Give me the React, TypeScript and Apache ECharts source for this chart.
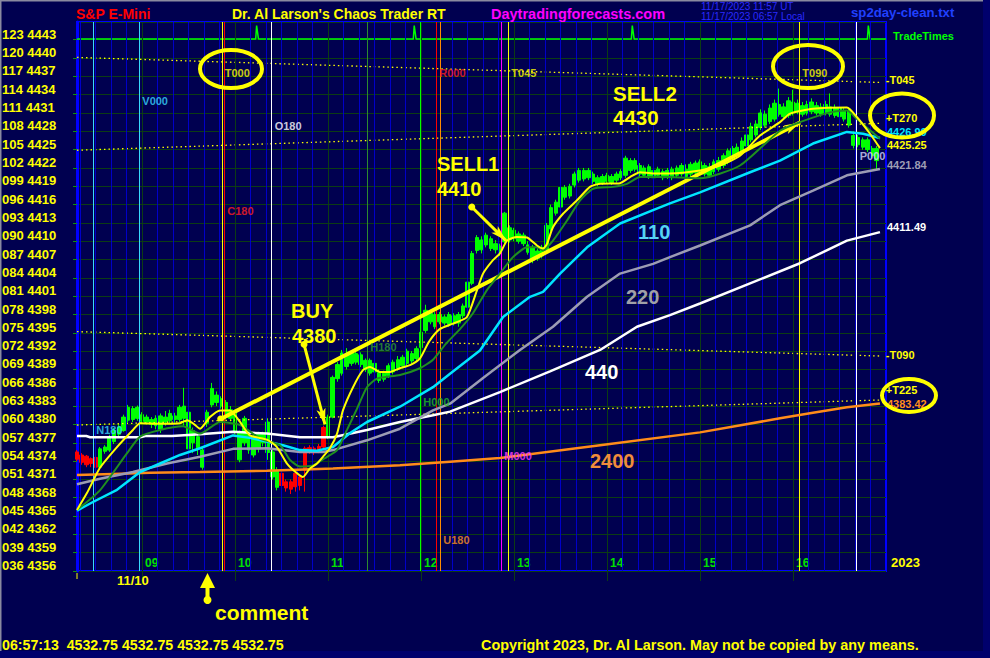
import React, { useEffect, useRef } from 'react';
import * as echarts from 'echarts';

const FONT = "'Liberation Sans', Arial, sans-serif";
const NARROW = "'Liberation Sans Narrow', 'Liberation Sans', Arial, sans-serif";

// x axis = minutes after 08:00 ; first bar at 08:18, 3-minute bars
const X_MIN = 18;
const X_MAX = 540;
const BAR_START = 18;
const BAR_STEP = 3;

const hourTimes = [60, 120, 180, 240, 300, 360, 420, 480];
const hourLabels = ['09', '10', '11', '12', '13', '14', '15', '16'];

const yTickPrices = [4356, 4359, 4362, 4365, 4368, 4371, 4374, 4377, 4380, 4383, 4386, 4389, 4392, 4395, 4398, 4401, 4404, 4407, 4410, 4413, 4416, 4419, 4422, 4425, 4428, 4431, 4434, 4437, 4440, 4443];
const yTickCodes = ['036', '039', '042', '045', '048', '051', '054', '057', '060', '063', '066', '069', '072', '075', '078', '081', '084', '087', '090', '093', '096', '099', '102', '105', '108', '111', '114', '117', '120', '123'];

// OHLC bars [open, close, low, high]
const bars: number[][] = [
  [4375.5, 4374.3, 4374.0, 4375.8], [4375.0, 4373.8, 4373.4, 4375.3], [4374.8, 4373.4, 4373.0, 4375.0], [4374.4, 4373.6, 4373.0, 4374.6],
  [4374.6, 4373.0, 4372.4, 4374.8], [4373.0, 4376.0, 4372.8, 4376.3], [4375.6, 4376.3, 4375.2, 4376.6], [4375.8, 4378.0, 4375.5, 4378.3],
  [4377.2, 4379.0, 4376.8, 4379.4], [4378.4, 4379.6, 4378.0, 4380.0], [4379.0, 4381.2, 4378.8, 4381.6], [4380.7, 4382.8, 4380.3, 4383.2],
  [4380.8, 4382.6, 4380.4, 4383.0], [4381.0, 4382.8, 4380.6, 4383.1], [4380.5, 4381.6, 4380.2, 4382.0], [4380.4, 4381.2, 4380.0, 4381.6],
  [4380.0, 4380.8, 4379.4, 4381.2], [4379.8, 4381.0, 4379.2, 4381.5], [4379.2, 4381.4, 4378.6, 4381.8], [4380.4, 4381.2, 4379.8, 4382.2],
  [4380.6, 4381.8, 4380.2, 4382.4], [4380.8, 4381.4, 4380.3, 4381.9], [4380.8, 4382.8, 4380.4, 4383.2], [4381.0, 4383.0, 4379.8, 4386.0],
  [4376.0, 4382.0, 4375.4, 4382.4], [4377.0, 4379.0, 4375.3, 4379.5], [4376.0, 4378.0, 4375.0, 4378.6], [4373.0, 4375.8, 4372.6, 4376.2],
  [4380.2, 4382.0, 4379.6, 4382.4], [4383.2, 4385.9, 4382.8, 4386.8], [4383.6, 4384.8, 4383.0, 4385.4], [4383.0, 4384.2, 4382.6, 4384.6],
  [4381.2, 4383.6, 4380.8, 4384.0], [4381.0, 4382.4, 4380.5, 4383.0], [4378.8, 4382.0, 4378.4, 4382.4], [4374.2, 4378.6, 4373.8, 4379.0],
  [4377.0, 4381.0, 4376.5, 4381.4], [4375.8, 4378.4, 4375.2, 4379.0], [4375.0, 4377.8, 4374.6, 4378.3], [4376.0, 4378.4, 4375.4, 4378.8],
  [4377.0, 4378.4, 4376.4, 4378.8], [4375.4, 4380.4, 4374.2, 4381.0], [4371.4, 4375.5, 4371.0, 4376.0], [4369.7, 4372.5, 4369.2, 4373.0],
  [4372.0, 4370.0, 4369.4, 4372.4], [4370.6, 4369.6, 4369.0, 4371.0], [4370.6, 4369.4, 4368.6, 4371.0], [4372.0, 4369.8, 4369.0, 4372.4],
  [4371.4, 4370.0, 4369.2, 4371.8], [4376.1, 4372.5, 4369.0, 4376.4], [4376.2, 4375.6, 4375.2, 4376.6], [4376.1, 4375.4, 4375.0, 4376.4],
  [4376.4, 4375.8, 4375.3, 4376.8], [4379.5, 4376.3, 4376.0, 4379.8], [4378.0, 4381.2, 4377.6, 4381.6], [4381.2, 4387.7, 4381.0, 4388.0],
  [4387.5, 4389.8, 4387.0, 4390.2], [4388.4, 4391.7, 4388.0, 4392.2], [4389.5, 4391.4, 4389.0, 4392.5], [4390.0, 4391.7, 4389.6, 4392.0],
  [4390.2, 4391.6, 4389.8, 4392.0], [4389.8, 4391.4, 4389.4, 4391.8], [4389.0, 4390.5, 4388.6, 4390.8], [4388.4, 4390.5, 4388.0, 4390.8],
  [4388.6, 4390.0, 4388.2, 4390.4], [4387.2, 4388.5, 4386.8, 4389.0], [4387.4, 4388.4, 4387.0, 4388.8], [4388.0, 4389.6, 4387.6, 4390.0],
  [4388.6, 4390.2, 4388.2, 4390.6], [4389.2, 4390.6, 4388.8, 4391.2], [4389.6, 4391.0, 4389.2, 4391.4], [4390.0, 4392.0, 4389.6, 4392.4],
  [4390.4, 4391.6, 4390.0, 4392.0], [4390.8, 4392.4, 4390.4, 4392.8], [4392.6, 4395.1, 4392.2, 4395.5], [4395.4, 4398.7, 4395.0, 4399.6],
  [4396.8, 4398.2, 4396.4, 4398.6], [4396.0, 4398.0, 4395.6, 4398.4], [4396.8, 4398.0, 4396.4, 4398.4], [4396.6, 4397.6, 4396.2, 4398.0],
  [4396.4, 4398.0, 4396.0, 4398.4], [4396.6, 4397.8, 4396.2, 4398.2], [4396.6, 4398.0, 4396.0, 4398.4], [4397.8, 4399.4, 4397.4, 4399.8],
  [4399.2, 4403.3, 4398.8, 4403.6], [4403.1, 4408.0, 4402.8, 4408.4], [4408.5, 4410.6, 4408.0, 4411.0], [4408.6, 4410.2, 4408.0, 4410.8],
  [4409.4, 4411.0, 4409.0, 4411.4], [4408.8, 4410.4, 4408.4, 4410.8], [4408.6, 4409.6, 4408.0, 4410.2], [4408.0, 4409.2, 4407.6, 4409.6],
  [4409.9, 4414.6, 4409.4, 4414.8], [4410.2, 4412.2, 4409.8, 4412.6], [4410.4, 4411.8, 4410.0, 4412.2], [4410.0, 4411.2, 4409.6, 4411.6],
  [4409.6, 4411.0, 4409.2, 4411.4], [4408.2, 4409.4, 4407.8, 4410.0], [4406.9, 4409.0, 4406.4, 4409.4], [4407.2, 4408.4, 4406.8, 4408.8],
  [4407.6, 4409.0, 4407.2, 4409.4], [4408.5, 4412.6, 4408.0, 4413.0], [4412.0, 4415.5, 4411.6, 4416.0], [4414.6, 4416.4, 4414.2, 4416.8],
  [4415.6, 4418.8, 4415.2, 4419.2], [4417.2, 4418.8, 4416.8, 4419.2], [4417.4, 4419.0, 4417.0, 4419.4], [4419.2, 4421.0, 4418.8, 4421.4],
  [4420.0, 4421.6, 4419.6, 4422.0], [4420.2, 4421.6, 4419.8, 4422.0], [4420.4, 4421.6, 4420.0, 4422.0], [4419.8, 4421.0, 4419.4, 4421.4],
  [4419.4, 4420.4, 4419.0, 4420.8], [4419.6, 4420.6, 4419.2, 4421.0], [4419.8, 4420.8, 4419.4, 4421.2], [4419.6, 4420.6, 4419.2, 4421.0],
  [4420.0, 4421.0, 4419.6, 4421.4], [4420.4, 4421.4, 4420.0, 4421.8], [4420.8, 4423.6, 4420.4, 4424.0], [4421.6, 4423.2, 4421.2, 4423.6],
  [4421.8, 4423.2, 4421.4, 4423.6], [4421.0, 4422.4, 4420.6, 4422.8], [4420.8, 4422.0, 4420.4, 4422.4], [4420.6, 4422.2, 4420.2, 4422.6],
  [4420.4, 4421.6, 4420.0, 4422.0], [4420.8, 4421.8, 4420.4, 4422.2], [4420.4, 4421.4, 4420.0, 4421.8], [4420.6, 4421.6, 4420.2, 4422.0],
  [4420.4, 4421.8, 4420.0, 4422.2], [4420.8, 4422.0, 4420.4, 4422.4], [4421.0, 4422.4, 4420.6, 4422.8], [4420.6, 4421.8, 4420.2, 4422.6],
  [4421.0, 4422.6, 4420.6, 4423.0], [4421.2, 4422.8, 4420.8, 4423.2], [4421.4, 4423.0, 4421.0, 4423.4], [4421.0, 4422.4, 4420.6, 4422.8],
  [4420.8, 4422.2, 4420.4, 4422.8], [4421.4, 4423.0, 4421.0, 4423.4], [4421.8, 4423.2, 4421.4, 4423.8], [4422.4, 4424.0, 4422.0, 4424.4],
  [4423.0, 4424.8, 4422.6, 4425.2], [4423.6, 4425.2, 4423.2, 4425.6], [4424.0, 4425.4, 4423.6, 4426.0], [4424.6, 4426.4, 4424.2, 4427.0],
  [4425.6, 4427.4, 4425.2, 4427.8], [4426.6, 4428.8, 4426.2, 4429.4], [4427.4, 4429.2, 4427.0, 4429.8], [4428.6, 4431.0, 4428.2, 4431.6],
  [4429.0, 4430.8, 4428.6, 4431.4], [4429.6, 4431.8, 4429.2, 4432.4], [4430.0, 4432.6, 4429.6, 4433.2], [4430.8, 4432.4, 4430.4, 4435.0],
  [4430.4, 4432.0, 4430.0, 4432.6], [4430.6, 4433.0, 4430.2, 4433.6], [4431.0, 4432.8, 4430.6, 4434.8], [4431.2, 4432.6, 4430.8, 4433.2],
  [4430.8, 4432.2, 4430.4, 4432.8], [4431.0, 4432.4, 4430.6, 4433.0], [4431.2, 4432.8, 4430.8, 4433.4], [4431.0, 4432.2, 4430.6, 4432.8],
  [4430.8, 4432.0, 4430.4, 4432.6], [4431.0, 4432.4, 4430.6, 4433.0], [4430.8, 4432.0, 4430.4, 4434.2], [4430.6, 4431.8, 4430.2, 4432.4],
  [4430.4, 4431.8, 4430.0, 4432.2], [4430.0, 4431.4, 4429.6, 4431.8], [4429.0, 4431.4, 4428.6, 4431.8], [4425.7, 4427.3, 4425.2, 4428.0],
  [4425.8, 4427.0, 4425.4, 4427.4], [4425.4, 4426.6, 4425.0, 4427.0], [4425.0, 4426.6, 4424.6, 4427.0], [4424.0, 4425.2, 4423.6, 4425.6],
  [4423.2, 4425.2, 4421.8, 4425.6],
];

// moving averages as [minute, price]
const maYellow: number[][] = [
  [18, 4366.0], [24.5, 4368.8], [32.8, 4372.9], [43.8, 4376.3], [54.1, 4379.1], [58.7, 4380.2], [71.6, 4380.1], [84.5, 4380.2],
  [89.0, 4380.7], [92.8, 4380.2], [97.4, 4379.3], [103.8, 4381.2], [110.3, 4382.3], [116.7, 4382.3], [123.2, 4380.4], [129.6, 4378.2],
  [140.6, 4377.5], [147.0, 4376.3], [153.5, 4373.6], [160.0, 4372.0], [163.8, 4371.4], [168.3, 4372.8], [172.9, 4373.6], [176.7, 4374.7],
  [181.2, 4376.1], [185.8, 4378.5], [189.6, 4382.3], [196.1, 4386.1], [202.5, 4388.9], [207.1, 4389.4], [213.5, 4388.6], [220.0, 4388.6],
  [226.4, 4389.2], [232.9, 4389.7], [239.3, 4390.8], [245.0, 4393.5], [252.0, 4395.6], [260.6, 4396.5], [269.6, 4397.6], [276.1, 4402.0],
  [280.0, 4404.7], [286.4, 4406.9], [290.9, 4408.0], [295.5, 4410.1], [301.9, 4410.7], [308.4, 4410.6], [314.8, 4409.3], [318.7, 4408.8],
  [321.3, 4409.6], [325.1, 4412.3], [331.6, 4414.5], [340.6, 4416.7], [349.0, 4418.9], [355.5, 4419.4], [368.4, 4419.5], [374.8, 4420.5],
  [381.3, 4421.3], [389.7, 4421.1], [400.6, 4421.1], [420.0, 4421.6], [432.9, 4422.4], [445.8, 4424.0], [458.7, 4427.3], [471.6, 4429.5],
  [478.1, 4430.9], [492.9, 4431.7], [514.8, 4431.9], [521.3, 4430.3], [529.7, 4427.6], [536.1, 4425.25],
];
const maDarkGreen: number[][] = [
  [18, 4366.0], [32.8, 4369.2], [50.3, 4375.3], [58.7, 4378.0], [71.6, 4379.1], [86.4, 4379.7], [97.4, 4378.5], [110.3, 4380.4],
  [123.2, 4379.9], [136.1, 4377.7], [149.0, 4376.6], [155.4, 4374.2], [161.9, 4373.1], [170.3, 4373.3], [179.3, 4374.7], [185.8, 4375.8],
  [192.2, 4379.1], [198.7, 4382.6], [205.1, 4386.1], [211.6, 4387.5], [226.4, 4388.1], [239.3, 4389.2], [247.7, 4390.6], [256.0, 4393.2],
  [265.1, 4395.6], [273.5, 4398.2], [282.5, 4402.0], [290.9, 4404.7], [299.3, 4407.4], [308.4, 4409.0], [314.8, 4409.0], [318.7, 4408.5],
  [325.1, 4410.1], [334.2, 4413.4], [342.6, 4416.7], [351.0, 4418.6], [363.9, 4418.9], [372.9, 4419.4], [381.3, 4420.5], [400.6, 4420.5],
  [420.0, 4420.3], [445.8, 4422.4], [471.6, 4428.1], [484.5, 4429.5], [503.9, 4431.1], [514.8, 4431.4], [521.3, 4430.0], [536.1, 4426.8],
];
const maCyan: number[][] = [
  [18, 4365.9], [28.3, 4367.3], [43.8, 4369.3], [58.7, 4372.2], [71.6, 4373.6], [84.5, 4375.0], [97.4, 4376.1], [118.7, 4378.2],
  [129.6, 4377.8], [150.9, 4376.6], [161.9, 4375.8], [172.9, 4375.7], [183.2, 4376.3], [194.2, 4378.6], [205.1, 4380.4], [226.4, 4382.9],
  [247.7, 4386.1], [258.7, 4388.3], [278.0, 4392.1], [292.9, 4397.6], [310.3, 4400.9], [318.7, 4401.7], [329.7, 4404.7], [347.1, 4409.0],
  [368.4, 4412.9], [389.7, 4415.1], [400.6, 4416.2], [420.0, 4418.0], [452.3, 4421.3], [471.6, 4423.2], [492.9, 4426.0], [514.8, 4427.9],
  [525.2, 4427.6], [536.1, 4426.9],
];
const maGray: number[][] = [
  [18, 4370.2], [32.8, 4371.1], [54.1, 4372.2], [76.1, 4373.6], [97.4, 4374.7], [118.7, 4376.0], [140.6, 4376.1], [161.9, 4375.5],
  [176.7, 4375.5], [183.2, 4375.8], [205.1, 4377.4], [226.4, 4379.3], [247.7, 4382.3], [258.7, 4383.4], [280.0, 4387.6], [303.8, 4392.2],
  [325.1, 4396.0], [347.1, 4400.9], [368.4, 4404.7], [389.7, 4406.3], [400.6, 4407.4], [420.0, 4409.3], [452.3, 4412.6], [471.6, 4415.9],
  [492.9, 4418.3], [514.8, 4420.8], [536.1, 4421.84],
];
const maWhite: number[][] = [
  [18, 4378.1], [24.0, 4378.1], [26.4, 4377.9], [58.7, 4377.9], [62.0, 4378.1], [79.3, 4378.1], [97.4, 4378.4], [118.7, 4378.8],
  [140.6, 4378.5], [161.9, 4377.9], [183.2, 4377.9], [205.1, 4379.1], [226.4, 4380.4], [247.7, 4381.5], [258.7, 4382.1], [290.9, 4385.3],
  [323.2, 4388.7], [355.5, 4392.2], [379.3, 4396.0], [400.6, 4397.9], [420.0, 4399.8], [452.3, 4403.1], [484.5, 4406.4], [514.8, 4410.1],
  [536.1, 4411.49],
];
const maOrange: number[][] = [
  [18, 4371.7], [41.2, 4371.9], [65.1, 4372.1], [97.4, 4372.2], [140.6, 4372.4], [183.2, 4372.8], [226.4, 4373.3], [258.7, 4373.9],
  [290.9, 4374.5], [355.5, 4376.6], [420.0, 4378.7], [471.6, 4381.0], [492.9, 4381.9], [514.8, 4382.8], [536.1, 4383.42],
];
const maEndLabels = ['4425.25', '', '4426.90', '4421.84', '4411.49', '4383.42'];

// Gann time lines (dotted): start price, end price
const gannLabels = ['-T045', '+T270', '-T090', '+T225'];
const gannStart = [4440.1, 4424.9, 4395.2, 4379.9];
const gannEnd = [4436.0, 4429.3, 4391.2, 4384.0];
const gannEndTime = 536;

// TradeTimes trace
const tradeTimes: number[][] = [
  [18, 4443.1], [133.3, 4443.1], [133.9, 4445.3], [134.5, 4444.2], [135.1, 4443.1], [235.0, 4443.1], [235.6, 4445.3], [236.2, 4444.2],
  [236.8, 4443.1], [375.7, 4443.1], [376.3, 4445.3], [376.9, 4444.2], [377.5, 4443.1], [528.0, 4443.1], [528.6, 4445.3], [529.2, 4444.2],
  [529.8, 4443.1], [540, 4443.1],
];

// vertical event lines
const markerTimes = [28.5, 58.2, 111.4, 113.0, 143.6, 205.3, 239.5, 249.8, 252.4, 291.8, 296.3, 484.1, 521.1];
const markerColors = ['#38d8ff', '#38d8ff', '#ffff00', '#ff0000', '#ffffff', '#2e8b2e', '#00ff00', '#ff0000', '#ff8c00', '#ff00ff', '#ffff00', '#ffff00', '#ffffff'];
const markerLabels = ['N180', 'V000', 'T000', 'C180', 'O180', 'H180', 'H000', 'R000', 'U180', 'M000', 'T045', 'T090', 'P000'];
const markerLabelPrices = [4379.1, 4433.0, 4437.6, 4415.0, 4428.8, 4392.6, 4383.6, 4437.6, 4361.1, 4374.8, 4437.6, 4437.6, 4424.0];
const markerLabelColors = ['#38d8ff', '#38d8ff', '#ffff00', '#ff2020', '#ffffff', '#2e9b2e', '#20c020', '#ff2020', '#ff9020', '#ff40ff', '#ffff00', '#ffff00', '#d8d8ff'];

// arrows [minute, price]
const arrowStarts = [[164.5, 4393.1], [272.7, 4415.6], [110.7, 4380.9]];
const arrowEnds = [[178.0, 4380.0], [294.8, 4410.1], [484.5, 4429.45]];

function App() {
  const ref = useRef<HTMLDivElement>(null);

  useEffect(() => {
    if (!ref.current) return;
    const chart = echarts.init(ref.current, null, { renderer: 'svg' });

    const gridTimes: number[] = [];
    for (let t = 20; t < X_MAX; t += 10) if (t % 60 !== 0) gridTimes.push(t);

    const candleData = bars.map((b, i) => [BAR_START + BAR_STEP * i, b[0], b[1], b[2], b[3]]);

    const maDefs = [
      { data: maYellow, color: '#ffff00', width: 2, label: maEndLabels[0], lc: '#ffff00', dy: -3, smooth: 0.2 },
      { data: maDarkGreen, color: '#1f8f1f', width: 2, label: maEndLabels[1], lc: '#1f8f1f', dy: 0, smooth: 0.2 },
      { data: maCyan, color: '#00e5ff', width: 2.5, label: maEndLabels[2], lc: '#00e5ff', dy: -6, smooth: false },
      { data: maGray, color: '#9c9cb4', width: 2.5, label: maEndLabels[3], lc: '#9c9cb4', dy: -4, smooth: false },
      { data: maWhite, color: '#ffffff', width: 2.5, label: maEndLabels[4], lc: '#ffffff', dy: -5, smooth: false },
      { data: maOrange, color: '#ff8c1a', width: 2.5, label: maEndLabels[5], lc: '#ff8c1a', dy: 0, smooth: false },
    ];
    const maOrder = [5, 4, 3, 2, 1, 0];
    const maSeries = maOrder.map((k) => {
      const d = maDefs[k];
      return {
        type: 'line',
        data: d.data,
        symbol: 'none',
        smooth: d.smooth,
        lineStyle: { color: d.color, width: d.width },
        silent: true,
        z: 5,
        endLabel: {
          show: d.label !== '',
          formatter: d.label,
          color: d.lc,
          fontFamily: NARROW,
          fontWeight: 'bold',
          fontSize: 11,
          distance: 7,
          offset: [0, d.dy],
        },
      };
    });

    const gannOffsets = [-2, -5, -1, -10];
    const gannSeries = gannLabels.map((lab, i) => ({
      type: 'line',
      data: [[X_MIN, gannStart[i]], [gannEndTime, gannEnd[i]]],
      symbol: 'none',
      silent: true,
      z: 4,
      lineStyle: { color: '#ffff00', width: 1.3, type: [1.5, 3] },
      endLabel: {
        show: true,
        formatter: lab,
        color: '#ffff00',
        fontFamily: NARROW,
        fontWeight: 'bold',
        fontSize: 11,
        distance: 6,
        offset: [0, gannOffsets[i]],
      },
    }));

    const txt = (text: string, x: number, y: number, fill: string, size: number, weight = 'bold', family = FONT) => ({
      type: 'text',
      x,
      y,
      z: 100,
      silent: true,
      style: { text, fill, fontSize: size, fontWeight: weight, fontFamily: family, align: 'left', verticalAlign: 'middle' },
    });
    const ell = (cx: number, cy: number, rx: number, ry: number) => ({
      type: 'ellipse',
      z: 100,
      silent: true,
      shape: { cx, cy, rx, ry },
      style: { fill: 'none', stroke: '#ffff00', lineWidth: 4 },
    });

    const option: any = {
      animation: false,
      backgroundColor: '#000050',
      grid: {
        left: 77,
        right: 104,
        top: 22,
        bottom: 87,
        show: true,
        borderColor: '#0000ff',
        borderWidth: 2,
        backgroundColor: 'transparent',
        outerBoundsMode: 'none',
        containLabel: false,
      },
      xAxis: {
        type: 'value',
        min: X_MIN,
        max: X_MAX,
        axisLine: { show: false },
        splitLine: { show: false },
        axisTick: { show: true, customValues: hourTimes, length: 10, inside: false, lineStyle: { color: '#0c3c14', width: 1 } },
        axisLabel: {
          show: true,
          customValues: hourTimes,
          inside: true,
          formatter: (v: number) => {
            const i = hourTimes.findIndex((h) => Math.abs(h - v) < 0.01);
            return i < 0 ? '' : hourLabels[i];
          },
          color: '#00e000',
          fontFamily: NARROW,
          fontWeight: 'bold',
          fontSize: 12,
          align: 'left',
          verticalAlign: 'middle',
          margin: 8,
          padding: [0, 0, 0, 3],
        },
      },
      yAxis: {
        type: 'value',
        min: 4356,
        max: 4445.9,
        interval: 3,
        axisLine: { show: true, lineStyle: { color: '#0000ff', width: 3 } },
        axisTick: { show: true, length: 4, lineStyle: { color: '#109010' } },
        splitLine: { show: true, lineStyle: { color: '#0c3c14', width: 1 } },
        axisLabel: {
          show: true,
          showMaxLabel: false,
          margin: 75,
          align: 'left',
          verticalAlign: 'bottom',
          lineHeight: 11,
          color: '#ffff00',
          fontFamily: FONT,
          fontWeight: 'bold',
          fontSize: 13,
          formatter: (v: number) => {
            const i = yTickPrices.findIndex((p) => Math.abs(p - v) < 0.01);
            return i < 0 ? '' : yTickCodes[i] + ' ' + yTickPrices[i];
          },
        },
      },
      series: [
        {
          type: 'line',
          data: [],
          silent: true,
          z: 1,
          markLine: {
            silent: true,
            symbol: ['none', 'none'],
            label: { show: false },
            lineStyle: { color: '#0000c8', width: 1, type: 'solid' },
            data: gridTimes.map((t) => ({ xAxis: t })),
          },
        },
        {
          type: 'line',
          data: [],
          silent: true,
          z: 1,
          markLine: {
            silent: true,
            symbol: ['none', 'none'],
            label: { show: false },
            lineStyle: { color: '#0c3c14', width: 1, type: 'solid' },
            data: hourTimes.map((t) => ({ xAxis: t })),
          },
        },
        {
          type: 'line',
          data: [],
          silent: true,
          z: 2,
          markLine: {
            silent: true,
            symbol: ['none', 'none'],
            label: { show: false },
            lineStyle: { width: 1, type: 'solid' },
            data: markerTimes.map((t, i) => ({ xAxis: t, lineStyle: { color: markerColors[i], width: 1, type: 'solid' } })),
          },
        },
        {
          type: 'line',
          data: tradeTimes,
          symbol: 'none',
          silent: true,
          z: 3,
          lineStyle: { color: '#00ff00', width: 1.5 },
          endLabel: {
            show: true,
            formatter: 'TradeTimes',
            color: '#00ff00',
            fontFamily: NARROW,
            fontWeight: 'bold',
            fontSize: 11,
            distance: 7,
            offset: [0, -3],
          },
        },
        {
          type: 'candlestick',
          data: candleData,
          encode: { x: 0, y: [1, 2, 3, 4] },
          barWidth: 4,
          silent: true,
          z: 3,
          itemStyle: { color: '#00ff00', color0: '#ff0000', borderColor: '#00ff00', borderColor0: '#ff0000', borderWidth: 1 },
        },
        ...gannSeries,
        ...maSeries,
        {
          type: 'scatter',
          symbol: 'circle',
          symbolSize: 0,
          silent: true,
          z: 8,
          data: markerTimes.map((t, i) => ({
            value: [t, markerLabelPrices[i]],
            label: { color: markerLabelColors[i] },
          })),
          label: {
            show: true,
            position: 'right',
            distance: 3,
            formatter: (p: any) => markerLabels[p.dataIndex],
            fontFamily: NARROW,
            fontWeight: 'bold',
            fontSize: 11,
          },
        },
        {
          type: 'line',
          data: [],
          silent: true,
          z: 9,
          markLine: {
            silent: true,
            symbol: ['circle', 'arrow'],
            symbolSize: [7, 16],
            label: { show: false },
            lineStyle: { color: '#ffff00', width: 3, type: 'solid' },
            data: arrowStarts.map((s, i) => [
              { coord: s, lineStyle: { width: i === 2 ? 4 : 3, color: '#ffff00', type: 'solid' } },
              { coord: arrowEnds[i] },
            ]),
          },
        },
      ],
      graphic: [
        { type: 'rect', z: 100, silent: true, shape: { x: 0, y: 0, width: 990, height: 1.5 }, style: { fill: '#8a8aa0' } },
        { type: 'rect', z: 100, silent: true, shape: { x: 0, y: 0, width: 1.5, height: 658 }, style: { fill: '#8a8aa0' } },
        { type: 'rect', z: 100, silent: true, shape: { x: 983, y: 0, width: 7, height: 658 }, style: { fill: '#00006c' } },
        { type: 'rect', z: 100, silent: true, shape: { x: 0, y: 651, width: 990, height: 7 }, style: { fill: '#00006c' } },
        txt('S&P E-Mini', 76, 14, '#ff0000', 14),
        txt("Dr. Al Larson's Chaos Trader RT", 232, 14, '#ffff00', 14),
        txt('Daytradingforecasts.com', 491, 14, '#ff00ff', 14.5),
        txt('11/17/2023 11:57 UT', 701, 6.5, '#2a2aff', 10, 'normal'),
        txt('11/17/2023 06:57 Local', 701, 16.5, '#2a2aff', 10, 'normal'),
        txt('sp2day-clean.txt', 851, 12.5, '#2040ff', 13.2),
        txt('06:57:13  4532.75 4532.75 4532.75 4532.75', 2, 645, '#ffff00', 14.2),
        txt('Copyright 2023, Dr. Al Larson. May not be copied by any means.', 481, 645, '#ffff00', 14.4),
        txt('11/10', 117, 580, '#ffff00', 13),
        txt('2023', 891, 562, '#ffff00', 13),
        txt('comment', 215, 612, '#ffff00', 21),
        txt('BUY', 291, 311, '#ffff00', 20),
        txt('4380', 292, 336, '#ffff00', 20),
        txt('SELL1', 437, 164, '#ffff00', 20),
        txt('4410', 437, 189, '#ffff00', 20),
        txt('SELL2', 613, 93, '#ffff00', 20.5),
        txt('4430', 613, 117, '#ffff00', 20.5),
        txt('110', 638, 232, '#55d4f4', 20),
        txt('220', 626, 297, '#a0a0a8', 20),
        txt('440', 585, 372, '#ffffff', 20),
        txt('2400', 590, 461, '#f08c3c', 20),
        ell(231, 69, 31, 19),
        ell(808, 66.5, 35, 21.5),
        ell(902, 115.5, 32, 22),
        ell(909, 395.5, 27, 16.5),
        { type: 'line', z: 100, silent: true, shape: { x1: 77, y1: 573, x2: 77, y2: 579 }, style: { stroke: '#ffff00', lineWidth: 1 } },
        { type: 'line', z: 100, silent: true, shape: { x1: 207.5, y1: 600, x2: 207.5, y2: 586 }, style: { stroke: '#ffff00', lineWidth: 4 } },
        { type: 'polygon', z: 100, silent: true, shape: { points: [[200, 588], [215, 588], [207.5, 573]] }, style: { fill: '#ffff00' } },
        { type: 'circle', z: 100, silent: true, shape: { cx: 207.5, cy: 600, r: 4 }, style: { fill: '#ffff00' } },
      ],
    };

    chart.setOption(option);
    return () => chart.dispose();
  }, []);

  return <div ref={ref} style={{ position: 'absolute', left: 0, top: 0, width: 990, height: 658, background: '#000050' }} />;
}

export default App;
